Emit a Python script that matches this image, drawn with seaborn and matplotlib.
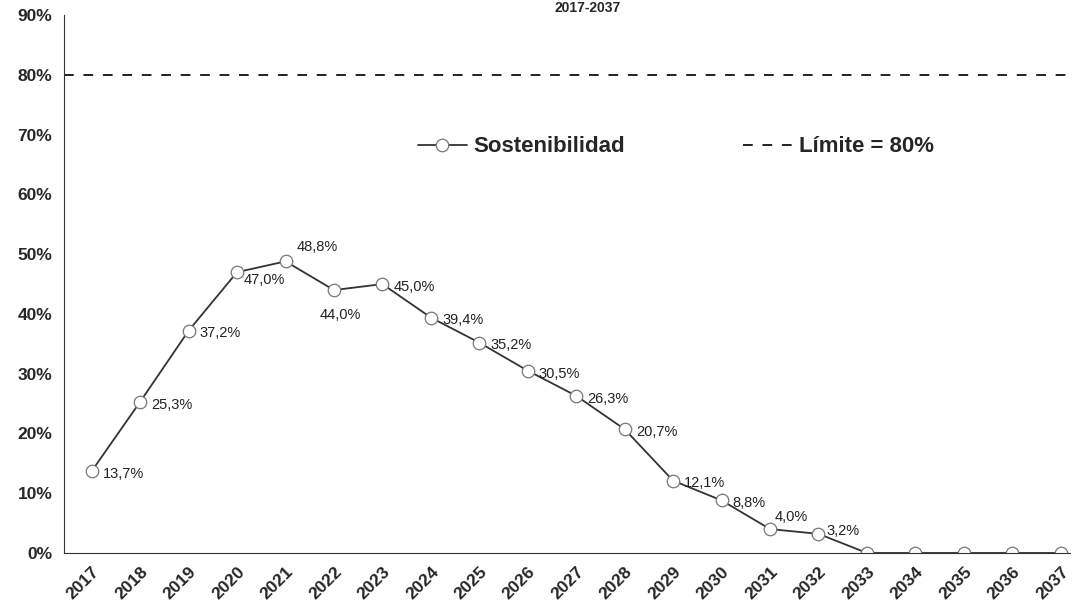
import matplotlib
matplotlib.use('Agg')
import matplotlib.pyplot as plt
import seaborn as sns
import pandas as pd

# Data
years = [str(y) for y in range(2017, 2038)]
sostenibilidad = [13.7, 25.3, 37.2, 47.0, 48.8, 44.0, 45.0, 39.4, 35.2, 30.5, 26.3,
                  20.7, 12.1, 8.8, 4.0, 3.2, 0.0, 0.0, 0.0, 0.0, 0.0]
limite = 80.0
labels = ['13,7%', '25,3%', '37,2%', '47,0%', '48,8%', '44,0%', '45,0%', '39,4%', '35,2%',
          '30,5%', '26,3%', '20,7%', '12,1%', '8,8%', '4,0%', '3,2%', '', '', '', '', '']

df = pd.DataFrame({'year': years, 'sost': sostenibilidad})
df['x'] = range(len(years))

sns.set_style('white')
plt.rcParams['font.family'] = ['Liberation Sans', 'DejaVu Sans']

fig = plt.figure(figsize=(10.78, 6.08), dpi=100)
ax = fig.add_axes([0.059, 0.0905, 0.934, 0.8845])

ax.axhline(limite, color='#222222', lw=1.4, linestyle=(0, (5, 5)), label='Límite = 80%')
sns.lineplot(data=df, x='x', y='sost', ax=ax, color='#333333', lw=1.3,
             marker='o', markersize=9, markerfacecolor='white',
             markeredgecolor='#777777', markeredgewidth=0.9, label='Sostenibilidad')

# label offsets (points)
offsets = {3: (5, -6), 4: (8, 10), 5: (-10, -18), 14: (3, 9), 15: (6, 2)}
for i, (v, t) in enumerate(zip(sostenibilidad, labels)):
    if not t:
        continue
    dx, dy = offsets.get(i, (8, -2))
    ax.annotate(t, (i, v), xytext=(dx, dy), textcoords='offset points',
                fontsize=10.5, color='#222222', va='center', ha='left')

ax.set_xlim(-0.58, 20.2)
ax.set_ylim(0, 90)
ax.set_yticks(range(0, 91, 10))
ax.set_yticklabels([f'{v}%' for v in range(0, 91, 10)], fontsize=12.5, fontweight='bold')
ax.set_xticks(df['x'])
ax.set_xticklabels(years, rotation=45, ha='right', rotation_mode='anchor',
                   fontsize=12.5, fontweight='bold')
ax.set_xlabel('')
ax.set_ylabel('')
ax.tick_params(axis='both', length=0, pad=8)
for s in ['top', 'right']:
    ax.spines[s].set_visible(False)
ax.spines['left'].set_color('#333333')
ax.spines['bottom'].set_color('#333333')

handles, lbls = ax.get_legend_handles_labels()
ax.legend(handles[::-1], lbls[::-1], loc='center', bbox_to_anchor=(0.608, 0.755),
          ncol=2, frameon=False, prop={'size': 16, 'weight': 'bold'},
          columnspacing=5.3, handlelength=2.2, handletextpad=0.3)

fig.text(0.545, 0.999, '2017-2037', ha='center', va='top', fontsize=10, fontweight='bold')

fig.savefig('out.png', dpi=100)
